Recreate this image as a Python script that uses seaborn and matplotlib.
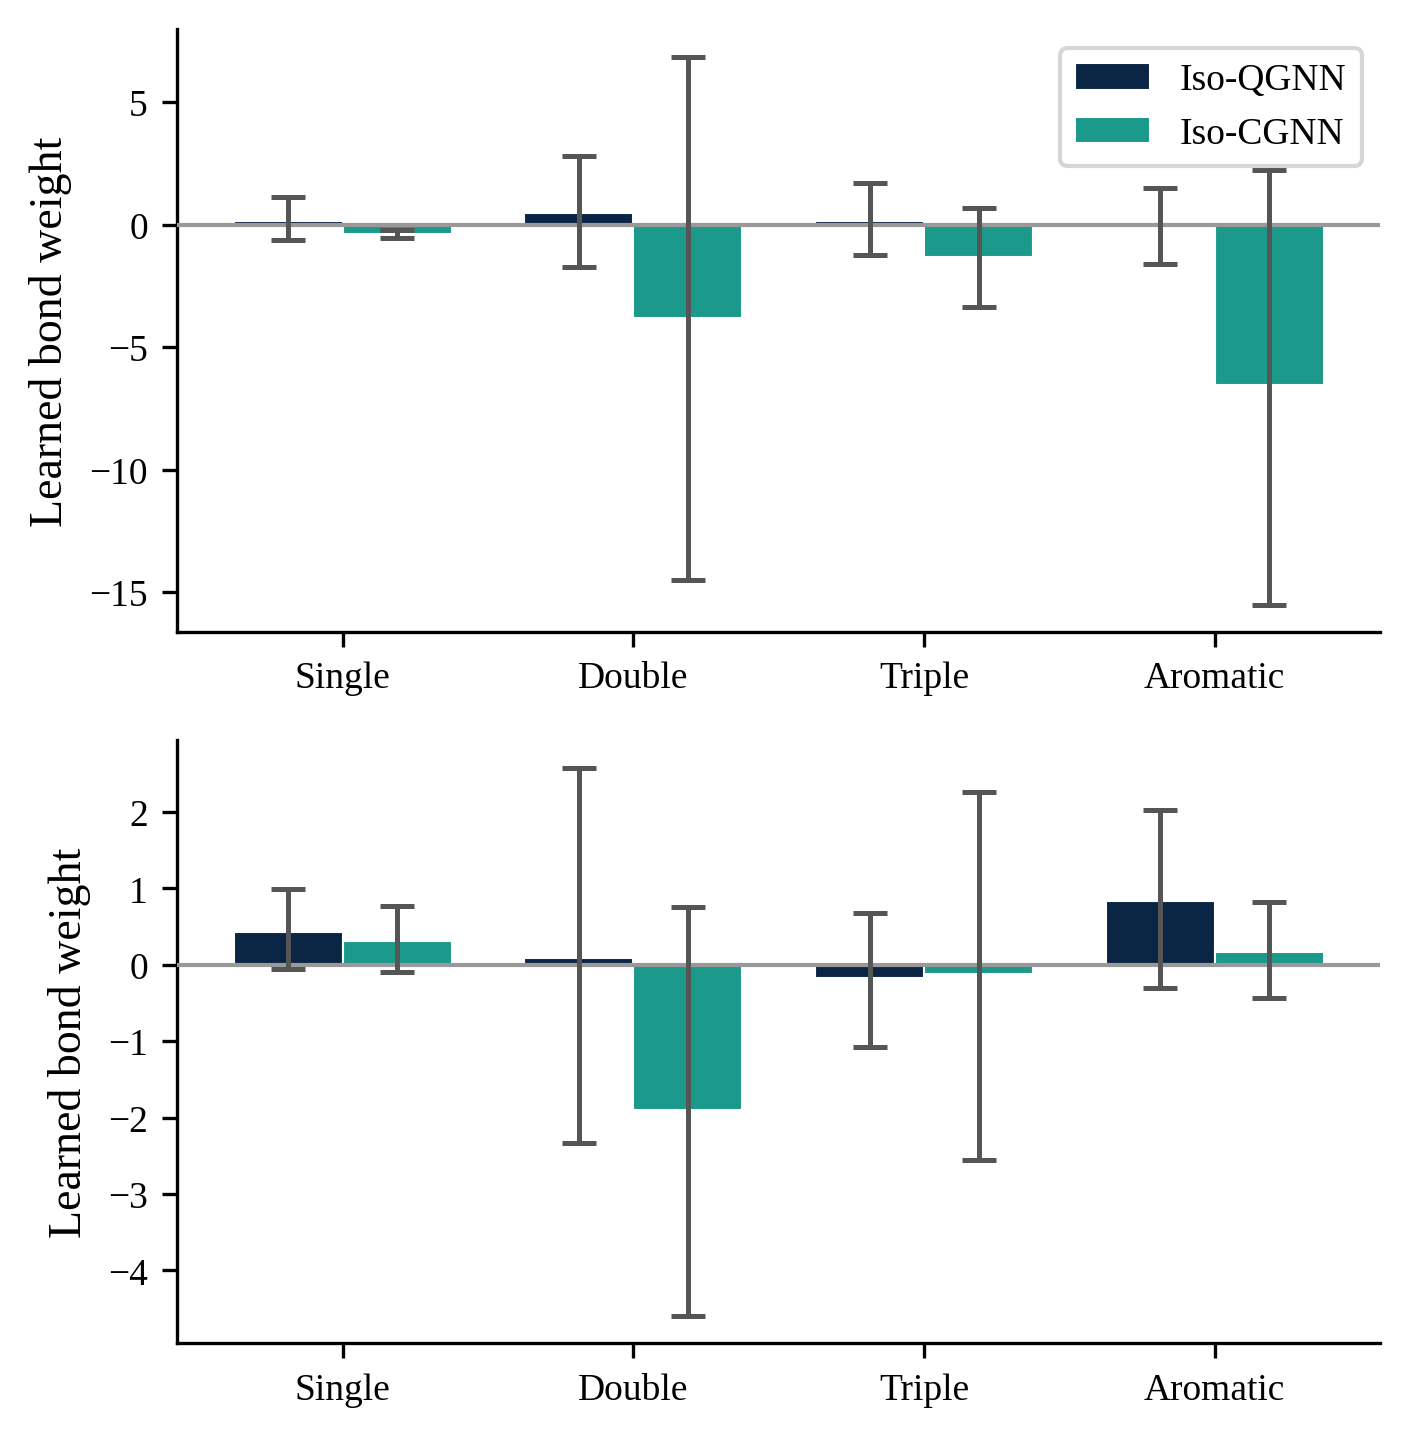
import numpy as np
import pandas as pd
import matplotlib
matplotlib.use("Agg")
import matplotlib.pyplot as plt
import seaborn as sns

bond_types = ["Single", "Double", "Triple", "Aromatic"]
models = ["Iso-QGNN", "Iso-CGNN"]
colors = ["#0b2545", "#1b998b"]

# top panel: mean, lower and upper end of error bar
top_q_mean = [0.15, 0.48, 0.15, -0.03]
top_q_lo = [-0.61, -1.74, -1.22, -1.59]
top_q_hi = [1.15, 2.79, 1.71, 1.51]
top_c_mean = [-0.37, -3.80, -1.30, -6.53]
top_c_lo = [-0.53, -14.5, -3.35, -15.5]
top_c_hi = [-0.23, 6.86, 0.69, 2.24]

# bottom panel
bot_q_mean = [0.43, 0.09, -0.17, 0.84]
bot_q_lo = [-0.05, -2.33, -1.07, -0.30]
bot_q_hi = [0.99, 2.58, 0.68, 2.03]
bot_c_mean = [0.31, -1.90, -0.12, 0.17]
bot_c_lo = [-0.09, -4.59, -2.55, -0.43]
bot_c_hi = [0.77, 0.76, 2.26, 0.82]

sns.set_style("ticks", {"axes.edgecolor": "black", "text.color": "black",
                        "axes.labelcolor": "black", "xtick.color": "black",
                        "ytick.color": "black"})
plt.rcParams['font.family'] = ['Liberation Serif', 'DejaVu Serif']


def draw_panel(ax, q_mean, q_lo, q_hi, c_mean, c_lo, c_hi, legend):
    df = pd.DataFrame({
        "bond": bond_types * 2,
        "model": [models[0]] * 4 + [models[1]] * 4,
        "weight": q_mean + c_mean,
    })
    sns.barplot(data=df, x="bond", y="weight", hue="model", order=bond_types,
                hue_order=models, palette=colors, saturation=1, width=0.75,
                errorbar=None, edgecolor="white", linewidth=0.5, ax=ax,
                legend=legend)
    ax.axhline(0, color="#999999", lw=1.0, zorder=3)
    for cont, m, lo, hi in zip(ax.containers, [q_mean, c_mean], [q_lo, c_lo], [q_hi, c_hi]):
        xs = [p.get_x() + p.get_width() / 2 for p in cont.patches]
        m = np.array(m)
        yerr = [m - np.array(lo), np.array(hi) - m]
        ax.errorbar(xs, m, yerr=yerr, fmt="none", ecolor="#555555",
                    elinewidth=1.2, capsize=4, capthick=1.2, zorder=4)
    ax.set_xlim(-0.57, 3.57)
    ax.set_xlabel("")
    ax.set_ylabel("Learned bond weight", fontsize=11)
    ax.tick_params(labelsize=9)
    sns.despine(ax=ax)
    if legend:
        ax.legend(loc="upper right", fontsize=9, title=None)


fig, axes = plt.subplots(2, 1, figsize=(4.7, 4.793), dpi=300)
draw_panel(axes[0], top_q_mean, top_q_lo, top_q_hi, top_c_mean, top_c_lo, top_c_hi, True)
draw_panel(axes[1], bot_q_mean, bot_q_lo, bot_q_hi, bot_c_mean, bot_c_lo, bot_c_hi, False)
plt.subplots_adjust(left=0.1255, right=0.979, top=0.979, bottom=0.0654, hspace=0.18)
plt.savefig("out.png", dpi=300)
plt.close()
